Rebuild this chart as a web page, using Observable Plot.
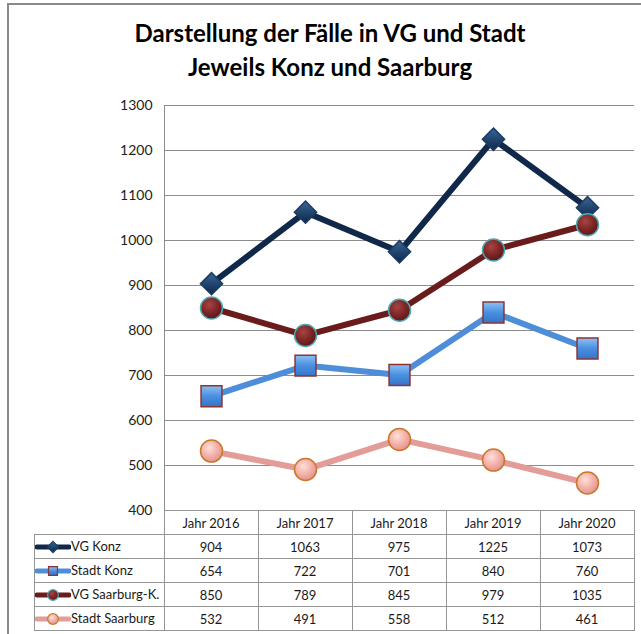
<!DOCTYPE html>
<html>
<head>
<meta charset="utf-8">
<script src="https://cdn.jsdelivr.net/npm/d3@7"></script>
<script src="https://cdn.jsdelivr.net/npm/@observablehq/plot@0.6"></script>
<style>
  body { margin: 0; background: #fff; }
  #wrap { position: relative; width: 641px; height: 634px; overflow: hidden; background: #fff; font-family: Lato, "Noto Sans", sans-serif; }
  #border { position: absolute; left: 7px; top: 3px; width: 700px; height: 700px; border-left: 2px solid #8a8a8a; border-top: 2px solid #8a8a8a; }
  #title { position: absolute; left: 20px; width: 620px; top: 16px; text-align: center; font-weight: bold; font-size: 24px; line-height: 34px; color: #000; }
  #chart { position: absolute; left: 0; top: 90px; }
  #tbl { position: absolute; left: 34px; top: 510px; border-collapse: collapse; font-size: 13px; color: #1a1a1a; }
  #tbl td { border: 1px solid #959595; height: 23px; padding: 0; text-align: center; }
  #tbl td.lg { text-align: left; white-space: nowrap; }
  #tbl td.blank { border: none; }
  #tbl svg { vertical-align: middle; }
</style>
</head>
<body>
<div id="wrap">
  <div id="border"></div>
  <div id="title">Darstellung der Fälle in VG und Stadt<br>Jeweils Konz und Saarburg</div>
  <div id="chart"></div>
  <table id="tbl"></table>
</div>
<script>
const years = ["Jahr 2016", "Jahr 2017", "Jahr 2018", "Jahr 2019", "Jahr 2020"];
const seriesNames = ["VG Konz", "Stadt Konz", "VG Saarburg-K.", "Stadt Saarburg"];
const vgKonz = [904, 1063, 975, 1225, 1073];
const stadtKonz = [654, 722, 701, 840, 760];
const vgSaarburg = [850, 789, 845, 979, 1035];
const stadtSaarburg = [532, 491, 558, 512, 461];
const yTicks = [400, 500, 600, 700, 800, 900, 1000, 1100, 1200, 1300];

const seriesValues = [vgKonz, stadtKonz, vgSaarburg, stadtSaarburg];
const lineColors = ["#10284a", "#4e8ed8", "#6a1c1c", "#e39c98"];
const symbols = ["diamond2", "square", "circle", "circle"];
const dotFills = ["url(#gDia)", "url(#gSq)", "url(#gMar)", "url(#gPink)"];
const dotStrokes = ["#1b3b63", "#8a3434", "#4ea8b2", "#c9782c"];
const dotR = [10, 11.8, 11, 11];

const data = seriesNames.flatMap((s, i) => years.map((y, j) => ({series: s, year: y, value: seriesValues[i][j]})));

const marks = [
  Plot.gridY(yTicks, {stroke: "#8c8c8c", strokeOpacity: 1, strokeWidth: 1})
];
seriesNames.forEach((s, i) => {
  const d = data.filter(r => r.series === s);
  marks.push(Plot.line(d, {x: "year", y: "value", stroke: lineColors[i], strokeWidth: 6, strokeLinejoin: "round", strokeLinecap: "round"}));
  marks.push(Plot.dot(d, {x: "year", y: "value", symbol: () => symbols[i], r: dotR[i], fill: dotFills[i], stroke: dotStrokes[i], strokeWidth: 1.5}));
});
marks.push(Plot.axisY(yTicks, {tickSize: 0, tickPadding: 12, fontSize: 14, fill: "#222", tickFormat: d => String(d), label: null}));

const chart = Plot.plot({
  width: 641,
  height: 421,
  marginLeft: 164,
  marginRight: 7,
  marginTop: 15,
  marginBottom: 1,
  style: {fontFamily: "Lato, 'Noto Sans', sans-serif", fontSize: "14px", background: "transparent", overflow: "visible"},
  x: {type: "band", domain: years, padding: 0, axis: null},
  y: {domain: [400, 1300], axis: null, label: null},
  symbol: {type: "identity"},
  marks
});

// gradients
const svg = d3.select(chart);
const defs = svg.insert("defs", ":first-child");
function radial(id, c0, c1, c2) {
  const g = defs.append("radialGradient").attr("id", id).attr("cx", "40%").attr("cy", "35%").attr("r", "70%");
  g.append("stop").attr("offset", "0%").attr("stop-color", c0);
  g.append("stop").attr("offset", "55%").attr("stop-color", c1);
  g.append("stop").attr("offset", "100%").attr("stop-color", c2);
}
function linear(id, c0, c1, c2) {
  const g = defs.append("linearGradient").attr("id", id).attr("x1", "0").attr("y1", "0").attr("x2", "0").attr("y2", "1");
  g.append("stop").attr("offset", "0%").attr("stop-color", c0);
  g.append("stop").attr("offset", "50%").attr("stop-color", c1);
  g.append("stop").attr("offset", "100%").attr("stop-color", c2);
}
linear("gDia", "#3c6699", "#21466f", "#0f2848");
linear("gSq", "#8cc0f4", "#4b8fe0", "#3474c8");
radial("gMar", "#a84444", "#7c2626", "#5a1414");
radial("gPink", "#fde0d8", "#f3b0a8", "#e09088");
// left axis line
svg.append("line").attr("x1", 164.5).attr("x2", 164.5).attr("y1", 15).attr("y2", 420).attr("stroke", "#8c8c8c");

document.getElementById("chart").appendChild(chart);

// table
const tbl = d3.select("#tbl");
const head = tbl.append("tr");
head.append("td").attr("class", "blank").style("width", "129px");
years.forEach(y => head.append("td").style("width", "93px").text(y));

function legendIcon(i) {
  const s = d3.create("svg").attr("width", 36).attr("height", 16);
  s.append("line").attr("x1", 2).attr("x2", 34).attr("y1", 8).attr("y2", 8).attr("stroke", lineColors[i]).attr("stroke-width", 5).attr("stroke-linecap", "round");
  const sym = i === 0 ? d3.symbolDiamond2 : i === 1 ? d3.symbolSquare : d3.symbolCircle;
  const size = i === 1 ? 80 : i === 0 ? 80 : 90;
  s.append("path").attr("d", d3.symbol(sym, size)()).attr("transform", "translate(18,8)")
    .attr("fill", dotFills[i]).attr("stroke", dotStrokes[i]).attr("stroke-width", 1.2);
  return s.node();
}

seriesNames.forEach((s, i) => {
  const tr = tbl.append("tr");
  const lg = tr.append("td").attr("class", "lg");
  lg.node().appendChild(legendIcon(i));
  lg.append("span").text(s);
  seriesValues[i].forEach(v => tr.append("td").text(v));
});
</script>
</body>
</html>
